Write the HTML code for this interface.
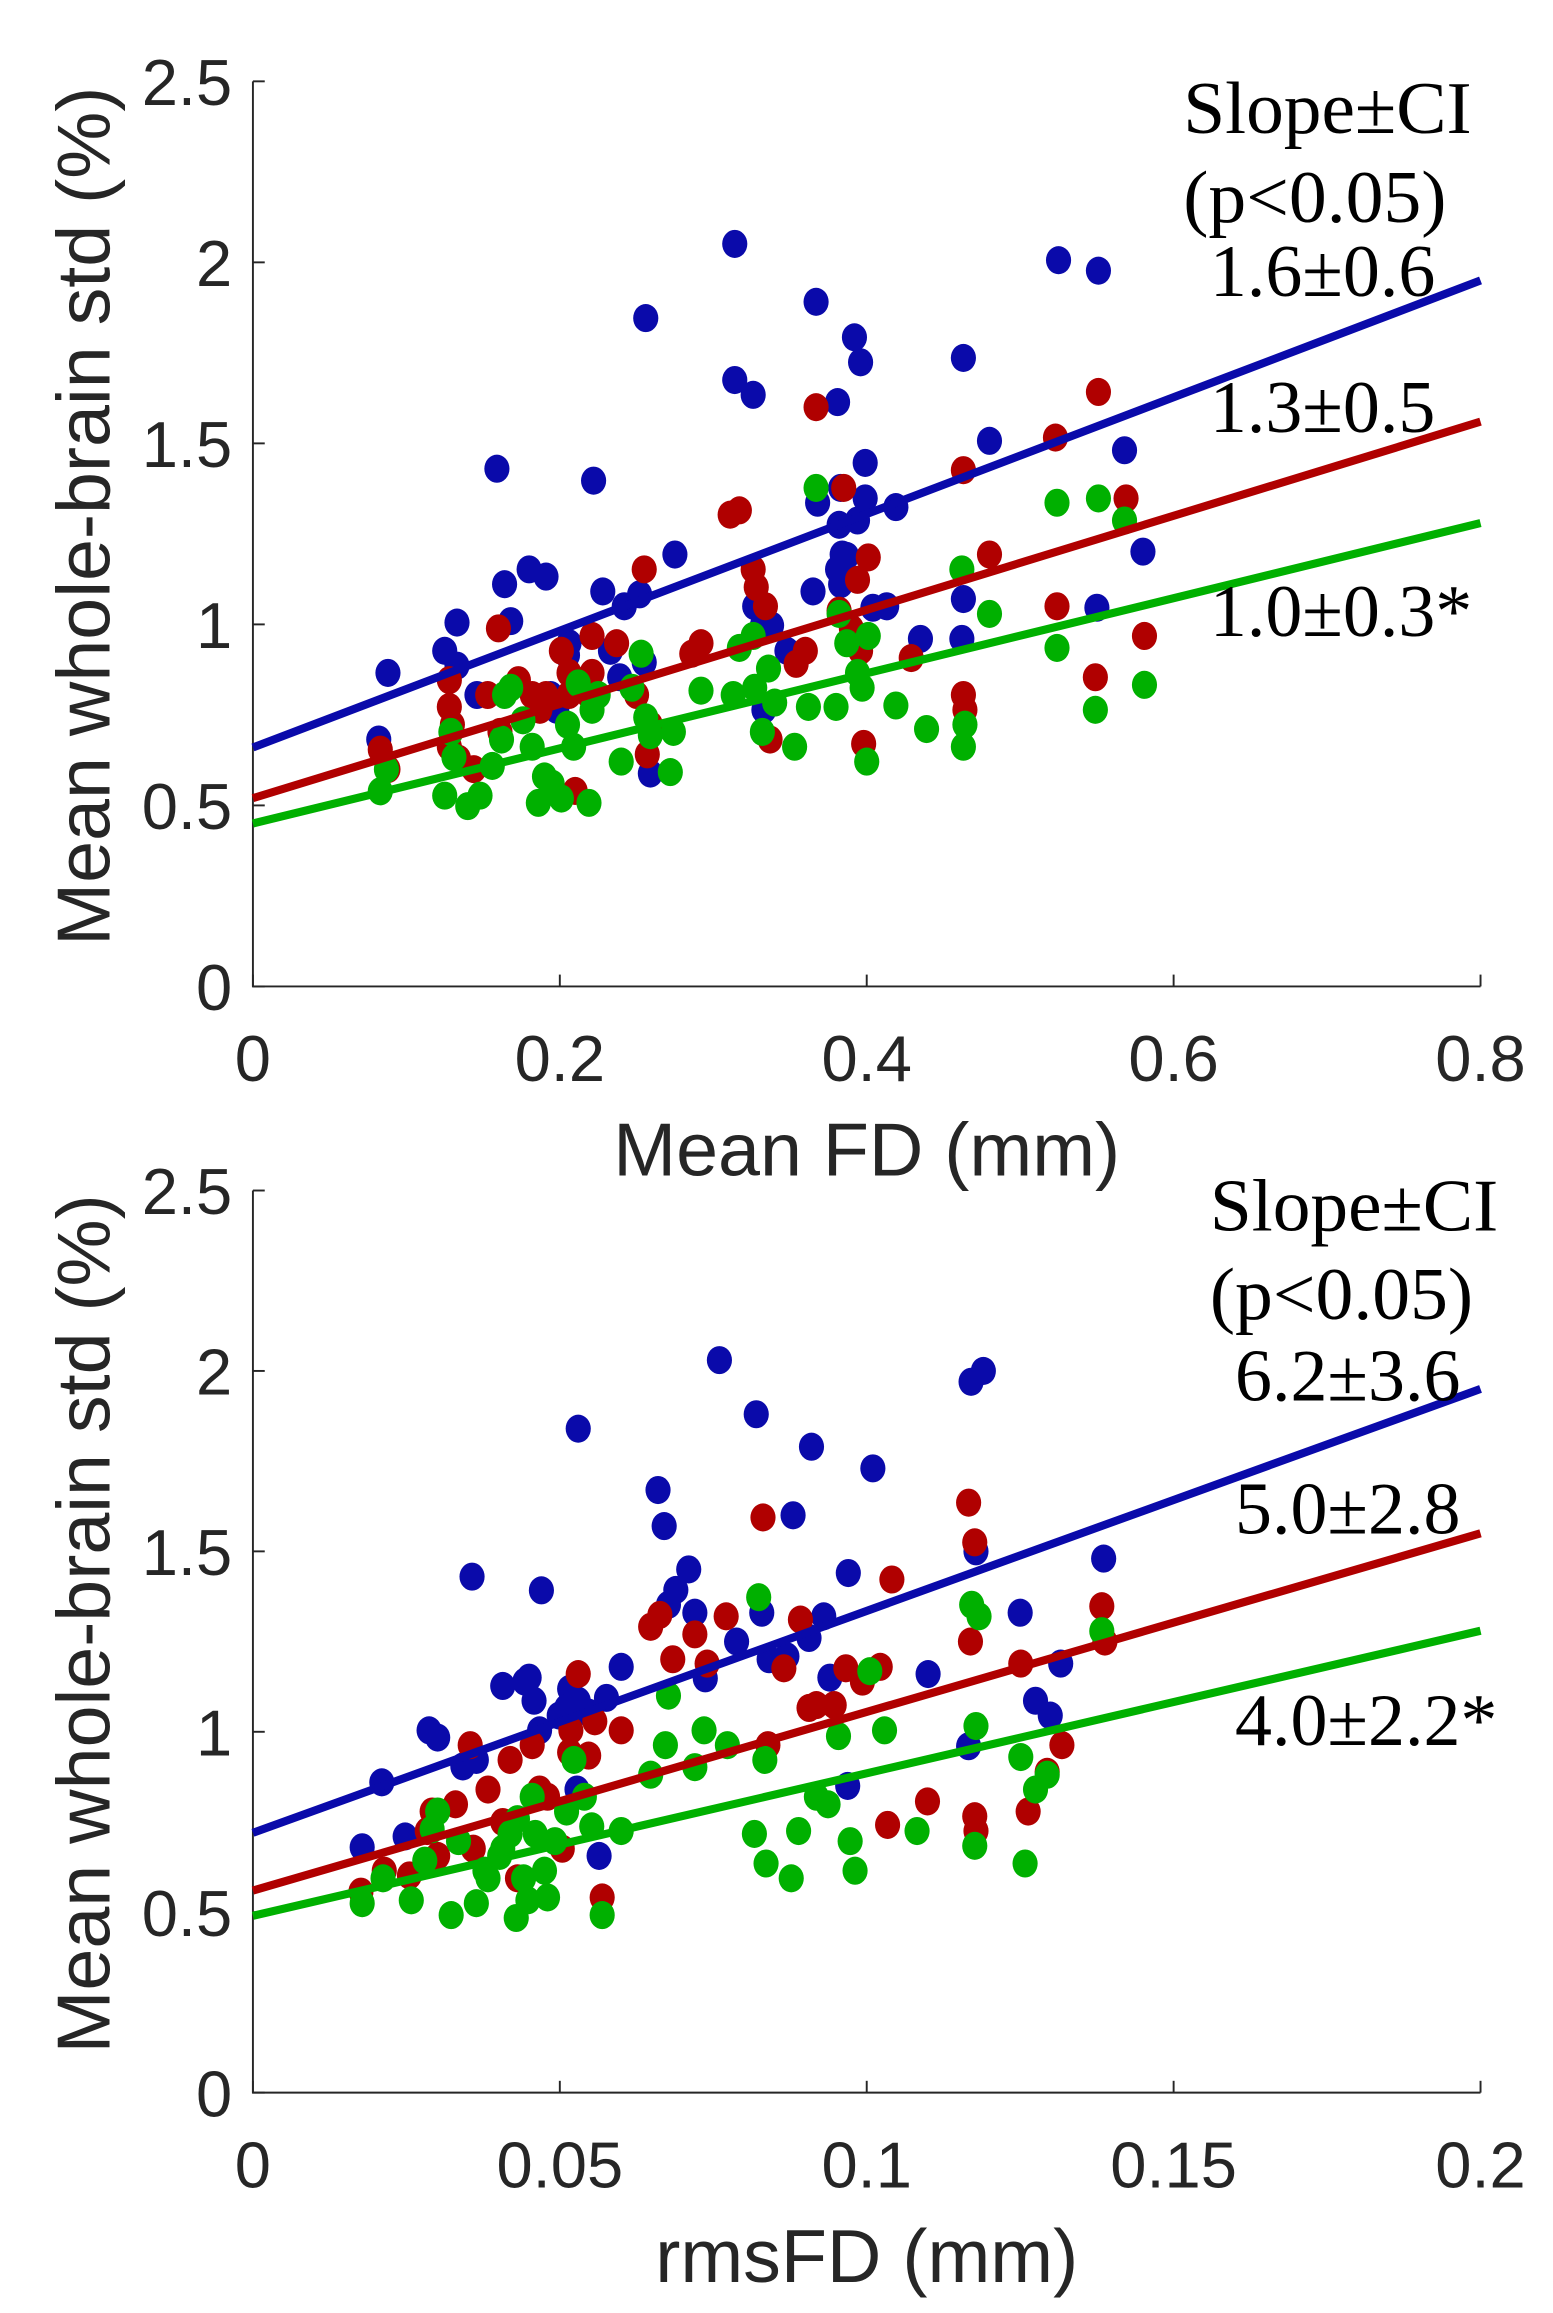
<!DOCTYPE html>
<html><head><meta charset="utf-8"><style>
html,body{margin:0;padding:0;background:#fff}
svg{display:block}
.tk{font-family:"Liberation Sans",sans-serif;font-size:44px;fill:#262626}
.ti{font-family:"Liberation Sans",sans-serif;font-size:51px;fill:#262626}
.an{font-family:"Liberation Serif",serif;font-size:50px;fill:#000}
</style></head><body>
<svg id="fig" width="1553" height="2313" viewBox="0 0 1050 1564" preserveAspectRatio="none" xmlns="http://www.w3.org/2000/svg"></svg>
<script>
// Panel A data (Mean FD)
const blueA=[[.088,.866],[.082,.682],[.133,1.005],[.133,.886],[.125,.927],[.168,1.009],[.146,.805],[.164,1.111],[.180,1.152],[.191,1.132],[.198,.764],[.205,.915],[.194,.805],[.242,1.050],[.252,1.083],[.228,1.091],[.206,.948],[.239,.854],[.275,1.193],[.259,.588],[.233,.927],[.255,.895],[.333,.764],[.348,.927],[.365,1.091],[.384,1.193],[.332,.997],[.327,1.050],[.338,.997],[.383,1.377],[.368,1.336],[.256,1.846],[.326,1.634],[.314,1.675],[.367,1.891],[.383,1.111],[.381,1.152],[.387,1.189],[.392,1.793],[.396,1.724],[.381,1.614],[.399,1.446],[.394,1.287],[.399,1.348],[.314,2.051],[.382,1.275],[.419,1.324],[.463,1.736],[.462,.960],[.463,1.070],[.435,.960],[.480,1.507],[.525,2.006],[.551,1.977],[.568,1.481],[.580,1.201],[.550,1.046],[.159,1.430],[.222,1.397],[.404,1.046],[.413,1.050]];
const redA=[[.083,.654],[.088,.600],[.128,.772],[.128,.846],[.130,.723],[.128,.662],[.134,.629],[.144,.600],[.160,.989],[.153,.805],[.173,.846],[.182,.805],[.187,.764],[.191,.805],[.201,.927],[.206,.805],[.219,.805],[.221,.968],[.250,.805],[.255,1.152],[.259,.723],[.257,.641],[.292,.948],[.311,1.303],[.317,1.315],[.326,1.152],[.328,1.103],[.334,1.050],[.337,.682],[.360,.927],[.367,1.600],[.382,1.038],[.385,1.377],[.390,.989],[.394,1.123],[.396,.927],[.398,.670],[.401,1.185],[.429,.907],[.463,1.426],[.463,.805],[.464,.764],[.480,1.193],[.523,1.516],[.524,1.050],[.549,.854],[.551,1.642],[.569,1.348],[.581,.968],[.206,.866],[.221,.866],[.237,.948],[.286,.919],[.354,.891],[.161,.703],[.210,.540]];
const greenA=[[.083,.539],[.087,.600],[.125,.527],[.129,.703],[.131,.633],[.140,.498],[.148,.527],[.156,.609],[.162,.682],[.164,.805],[.176,.735],[.182,.662],[.186,.507],[.190,.580],[.195,.560],[.201,.519],[.205,.723],[.209,.662],[.219,.507],[.212,.837],[.221,.764],[.225,.805],[.247,.825],[.253,.919],[.256,.743],[.259,.694],[.274,.703],[.292,.817],[.313,.805],[.317,.935],[.326,.968],[.327,.825],[.332,.703],[.336,.878],[.340,.784],[.353,.662],[.362,.772],[.367,1.377],[.380,.772],[.382,1.029],[.387,.948],[.394,.866],[.397,.825],[.401,.968],[.400,.621],[.419,.776],[.439,.711],[.462,1.152],[.463,.662],[.464,.723],[.480,1.029],[.524,1.336],[.524,.935],[.549,.764],[.551,1.348],[.568,1.287],[.581,.833],[.272,.592],[.240,.621],[.168,.825]];
const fitA=[[0.66,1.95],[0.52,1.56],[0.45,1.28]];
const slopeA=["1.6±0.6","1.3±0.5","1.0±0.3*"];
const xTicksA=[0,0.2,0.4,0.6,0.8];
const xLabelsA=["0","0.2","0.4","0.6","0.8"];
// Panel B data (rmsFD)
const blueB=[[.0178,.680],[.0210,.860],[.0248,.710],[.0287,1.004],[.0301,.984],[.0342,.904],[.0357,1.430],[.0364,.922],[.0407,1.127],[.0443,1.139],[.0458,1.086],[.0470,1.392],[.0467,1.004],[.0499,1.045],[.0528,.840],[.0516,1.119],[.0511,1.066],[.0530,1.086],[.0547,1.053],[.0564,.656],[.0576,1.094],[.0600,1.180],[.0660,1.670],[.0670,1.570],[.0710,1.450],[.0677,1.352],[.0689,1.393],[.0720,1.330],[.0737,1.148],[.0760,2.030],[.0788,1.250],[.0820,1.880],[.0829,1.330],[.0841,1.201],[.0880,1.600],[.0870,1.209],[.0910,1.790],[.0906,1.260],[.0930,1.320],[.0970,1.440],[.1010,1.730],[.0969,.850],[.0940,1.150],[.1100,1.160],[.1166,.960],[.1170,1.970],[.1190,2.000],[.1178,1.500],[.1250,1.330],[.1275,1.086],[.1299,1.045],[.1386,1.480],[.1316,1.189],[.0530,1.840],[.0450,1.150]];
const redB=[[.0176,.557],[.0214,.615],[.0255,.602],[.0284,.725],[.0292,.779],[.0301,.656],[.0330,.799],[.0354,.963],[.0359,.676],[.0383,.840],[.0407,.750],[.0419,.922],[.0431,.594],[.0455,.963],[.0467,.840],[.0480,.820],[.0504,.676],[.0516,.943],[.0518,1.004],[.0547,.934],[.0557,1.029],[.0569,.541],[.0600,1.004],[.0648,1.291],[.0663,1.324],[.0684,1.201],[.0720,1.270],[.0740,1.189],[.0771,1.320],[.0831,1.594],[.0839,.963],[.0865,1.176],[.0892,1.311],[.0906,1.066],[.0918,1.074],[.0947,1.074],[.0966,1.176],[.0993,1.139],[.1022,1.180],[.1034,.742],[.1041,1.422],[.1099,.807],[.1166,1.635],[.1169,1.250],[.1176,1.525],[.1176,.766],[.1178,.725],[.1251,1.189],[.1263,.779],[.1294,.889],[.1318,.963],[.1383,1.348],[.1388,1.250],[.0530,1.160]];
const greenB=[[.0178,.525],[.0212,.594],[.0258,.533],[.0280,.643],[.0292,.730],[.0301,.779],[.0323,.492],[.0335,.697],[.0364,.525],[.0378,.615],[.0383,.594],[.0402,.656],[.0407,.676],[.0419,.717],[.0429,.484],[.0431,.758],[.0441,.594],[.0448,.533],[.0455,.820],[.0460,.717],[.0475,.615],[.0480,.541],[.0492,.697],[.0511,.779],[.0523,.922],[.0540,.820],[.0552,.738],[.0569,.492],[.0600,.725],[.0648,.881],[.0672,.963],[.0677,1.100],[.0720,.902],[.0735,1.004],[.0773,.963],[.0817,.717],[.0836,.635],[.0834,.922],[.0824,1.373],[.0877,.594],[.0889,.725],[.0918,.820],[.0937,.799],[.0954,.988],[.0973,.697],[.0981,.615],[.1005,1.168],[.1029,1.004],[.1082,.725],[.1171,1.352],[.1176,.684],[.1178,1.016],[.1183,1.320],[.1251,.930],[.1258,.635],[.1275,.840],[.1294,.881],[.1383,1.279]];
const fitB=[[0.72,1.95],[0.56,1.55],[0.49,1.28]];
const slopeB=["6.2±3.6","5.0±2.8","4.0±2.2*"];
const xTicksB=[0,0.05,0.1,0.15,0.2];
const xLabelsB=["0","0.05","0.1","0.15","0.2"];
const yTicks=[0,0.5,1,1.5,2,2.5];
const yLabels=["0","0.5","1","1.5","2","2.5"];

const NS="http://www.w3.org/2000/svg";
const svg=document.getElementById('fig');
const COLORS=['#0a0aaa','#b00000','#00b000'];
const NAMES=['blue','red','green'];
function mk(tag,attrs,parent){const e=document.createElementNS(NS,tag);for(const k in attrs)e.setAttribute(k,attrs[k]);(parent||svg).appendChild(e);return e;}

function panel(id,top,bottom,xmax,xt,xl,series,fits,slopes,xtitle,annY){
  const L=171,R=1001;
  const g=mk('g',{});
  
  
  const sx=v=>L+(v/xmax)*(R-L), sy=v=>bottom-(v/2.5)*(bottom-top);
  const ax=mk('path',{d:`M${L} ${top}V${bottom}H${R}`,stroke:'#262626','stroke-width':1.3,fill:'none'},g);
  
  
  xt.forEach((v,i)=>{
    const t=mk('line',{x1:sx(v),x2:sx(v),y1:bottom,y2:bottom-8,stroke:'#262626','stroke-width':1.3},g);
    
    
    const tx=mk('text',{x:sx(v),y:bottom+64,'text-anchor':'middle',class:'tk'},g);
    tx.textContent=xl[i];
    
    
  });
  yTicks.forEach((v,i)=>{
    const t=mk('line',{x1:L,x2:L+8,y1:sy(v),y2:sy(v),stroke:'#262626','stroke-width':1.3},g);
    
    
    const tx=mk('text',{x:157,y:sy(v)+16,'text-anchor':'end',class:'tk'},g);
    tx.textContent=yLabels[i];
    
    
  });
  const yt=mk('text',{x:0,y:0,'text-anchor':'middle',class:'ti',transform:`translate(74 ${(top+bottom)/2-12}) rotate(-90)`},g);
  yt.textContent='Mean whole-brain std (%)';
  
  
  const xtt=mk('text',{x:(L+R)/2,y:bottom+128,'text-anchor':'middle',class:'ti'},g);
  xtt.textContent=xtitle;
  
  
  series.forEach((pts,si)=>{
    pts.forEach(p=>{
      const c=mk('ellipse',{cx:sx(p[0]),cy:sy(p[1]),rx:8.5,ry:9.5,fill:COLORS[si]},g);
      
      
    });
  });
  fits.forEach((f,si)=>{
    const l=mk('line',{x1:sx(0),y1:sy(f[0]),x2:sx(xmax),y2:sy(f[1]),stroke:COLORS[si],'stroke-width':5.5},g);
    
    
  });
  const h1=mk('text',{x:annY.hx,y:annY.h1,class:'an',textLength:195,lengthAdjust:'spacingAndGlyphs'},g);
  h1.textContent='Slope±CI';
  
  
  const h2=mk('text',{x:annY.hx,y:annY.h2,class:'an',textLength:178,lengthAdjust:'spacingAndGlyphs'},g);
  h2.textContent='(p<0.05)';
  
  
  slopes.forEach((s,i)=>{
    const t=mk('text',{x:annY.sx,y:annY.s[i],class:'an'},g);
    t.textContent=s;
    
    
  });
}
panel('panel-mean-fd',55,667,0.8,xTicksA,xLabelsA,[blueA,redA,greenA],fitA,slopeA,'Mean FD (mm)',{hx:800,h1:90,h2:150,sx:818,s:[200,292,430]});
panel('panel-rms-fd',805,1415,0.2,xTicksB,xLabelsB,[blueB,redB,greenB],fitB,slopeB,'rmsFD (mm)',{hx:818,h1:832,h2:892,sx:835,s:[947,1037,1180]});
</script>
</body></html>
